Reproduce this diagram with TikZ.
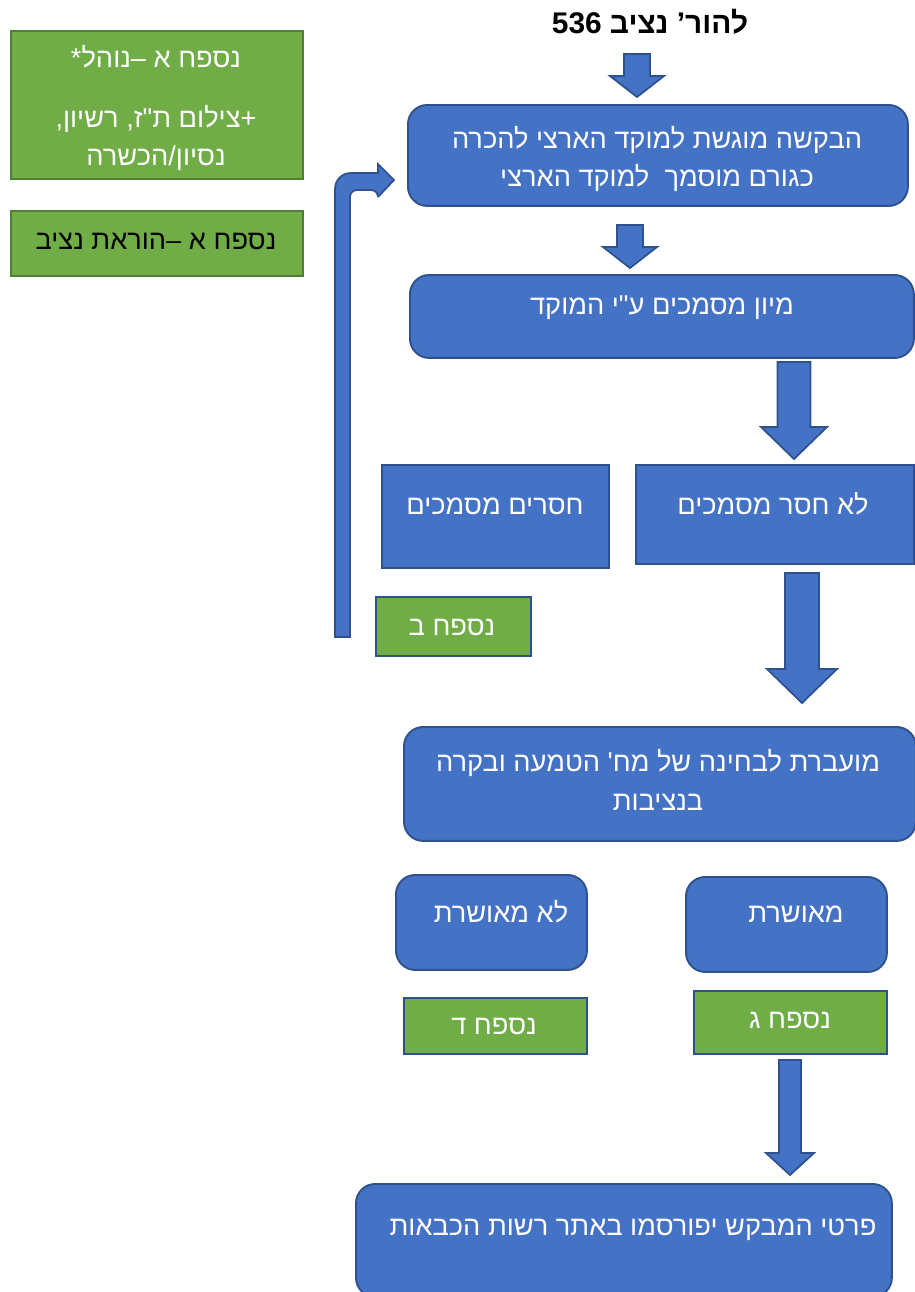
\documentclass[tikz,border=0pt]{standalone}
\usepackage{fontspec}
\setmainfont{Liberation Sans}
\newfontfamily\hebfont[Script=Hebrew]{Liberation Sans}
\TeXXeTstate=1
\usepackage{tikz}
\usetikzlibrary{positioning}

\definecolor{boxblue}{HTML}{4472C4}
\definecolor{edgeblue}{HTML}{2F528F}
\definecolor{boxgreen}{HTML}{70AD47}
\definecolor{edgegreen}{HTML}{507E32}

\newcommand{\heb}[1]{{\hebfont\beginR #1\endR}}
% block arrow pointing down: x, top, head start, tip, shaft half, head half
\newcommand{\fatdown}[6]{\filldraw[fatarrow] ({#1-#5},#2) -- ({#1+#5},#2) -- ({#1+#5},#3) -- ({#1+#6},#3) -- (#1,#4) -- ({#1-#6},#3) -- ({#1-#5},#3) -- cycle;}

\tikzset{
  bluebox/.style={draw=edgeblue, fill=boxblue, line width=1.1pt, rounded corners=11pt, anchor=north west, inner sep=0pt},
  bluerect/.style={bluebox, sharp corners},
  greenbox/.style={draw=edgeblue, fill=boxgreen, line width=1.1pt, anchor=north west, inner sep=0pt},
  greenside/.style={greenbox, draw=edgegreen},
  boxtext/.style={text=white, font=\fontsize{15.5}{22}\selectfont, align=center, inner sep=0pt},
  fatarrow/.style={draw=edgeblue, fill=boxblue, line width=1pt, line join=miter},
}

\begin{document}
\begin{tikzpicture}[x=0.02cm, y=-0.02cm]
\useasboundingbox (0,0) rectangle (915,1292);

% title
\node[font=\bfseries\fontsize{17}{20}\selectfont] (title) at (650,22) {\heb{להור’ נציב \beginL536\endL}};

% side notes
\node[greenside, minimum width=5.84cm, minimum height=2.96cm] (appA) at (10,30) {};
\node[boxtext] (appAtext) at (156,108) {\heb{נספח א –נוהל*}\\[12pt]\heb{+צילום ת"ז, רשיון,}\\\heb{נסיון/הכשרה}};
\node[greenside, minimum width=5.84cm, minimum height=1.30cm] (appAcmd) at (10,210) {};
\node[boxtext, text=black] (appAcmdtext) at (156,241) {\heb{נספח א –הוראת נציב}};

% main flow
\node[bluebox, minimum width=10cm, minimum height=2.02cm] (request) at (407,104) {};
\node[boxtext] (requesttext) at (657,159) {\heb{הבקשה מוגשת למוקד הארצי להכרה}\\\heb{כגורם מוסמך\ \ למוקד הארצי}};
\node[bluebox, minimum width=10.08cm, minimum height=1.66cm] (sorting) at (409,274) {};
\node[boxtext] (sortingtext) at (662,308) {\heb{מיון מסמכים ע"י המוקד}};

\node[bluerect, minimum width=4.54cm, minimum height=2.06cm] (missing) at (381,464) {};
\node[boxtext] (missingtext) at (495,506) {\heb{חסרים מסמכים}};
\node[bluerect, minimum width=5.56cm, minimum height=1.98cm] (complete) at (635,464) {};
\node[boxtext] (completetext) at (773,504) {\heb{לא חסר מסמכים}};
\node[greenbox, minimum width=3.10cm, minimum height=1.18cm] (appB) at (375,596) {};
\node[boxtext] (appBtext) at (452,627) {\heb{נספח ב}};

\node[bluebox, minimum width=10.24cm, minimum height=2.28cm] (transfer) at (403,726) {};
\node[boxtext] (transfertext) at (658,780) {\heb{מועברת לבחינה של מח' הטמעה ובקרה}\\\heb{בנציבות}};

\node[bluebox, minimum width=3.82cm, minimum height=1.90cm] (rejected) at (395,874) {};
\node[boxtext] (rejectedtext) at (501,912) {\heb{לא מאושרת}};
\node[bluebox, minimum width=4.02cm, minimum height=1.90cm] (approved) at (685,876) {};
\node[boxtext] (approvedtext) at (796,914) {\heb{מאושרת}};
\node[greenbox, minimum width=3.66cm, minimum height=1.12cm] (appD) at (403,997) {};
\node[boxtext] (appDtext) at (494,1026) {\heb{נספח ד}};
\node[greenbox, minimum width=3.86cm, minimum height=1.26cm] (appC) at (693,990) {};
\node[boxtext] (appCtext) at (790,1020) {\heb{נספח ג}};

\node[bluebox, minimum width=10.72cm, minimum height=2.26cm] (publish) at (355,1183) {};
\node[boxtext] (publishtext) at (633,1230) {\heb{פרטי המבקש יפורסמו באתר רשות הכבאות}};

% block arrows
\fatdown{637}{54}{76}{97}{13}{27}
\fatdown{630}{225}{247}{268}{13}{27}
\fatdown{794}{362}{427}{459}{16.5}{33}
\fatdown{802}{573}{669}{703}{17}{35}
\fatdown{790}{1060}{1153}{1175}{11}{24}

% return arrow
\filldraw[fatarrow] (350,637) [rounded corners=4pt] -- (350,190) -- (378,190) [sharp corners] -- (378,197) -- (394,180) -- (378,164) -- (378,173) [rounded corners=9pt] -- (335,173) [sharp corners] -- (335,637) -- cycle;
\end{tikzpicture}
\end{document}
